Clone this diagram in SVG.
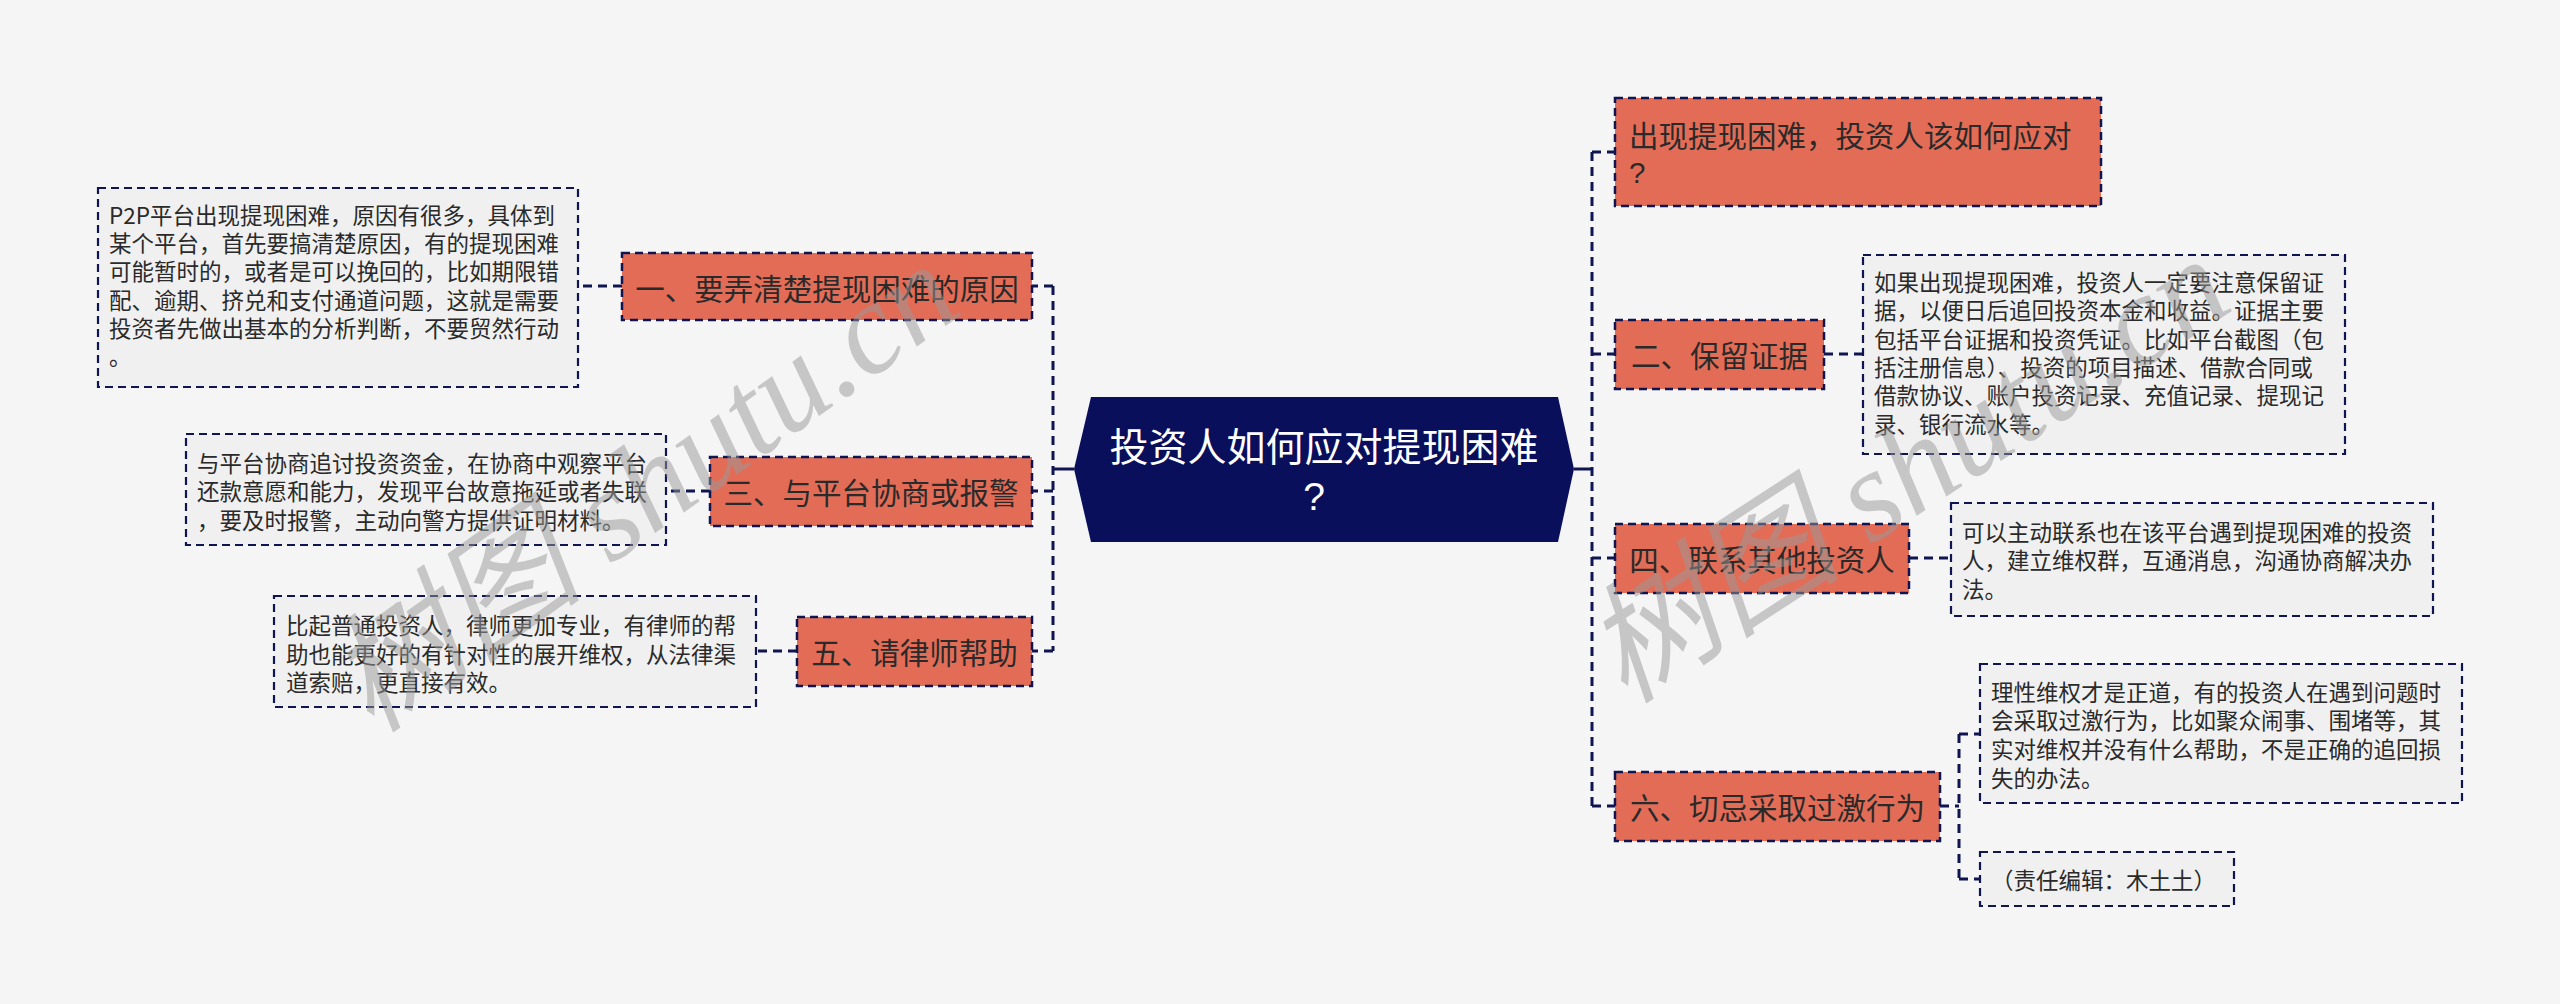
<svg xmlns="http://www.w3.org/2000/svg" width="2560" height="1004" viewBox="0 0 2560 1004">
<style>
.bg{fill:#f5f5f5}
.node{fill:#e36c57;stroke:#0e1550;stroke-width:2.5;stroke-dasharray:8 5}
.note{fill:#f0f0f0;stroke:#0e1550;stroke-width:2.2;stroke-dasharray:8 5}
.conn{fill:none;stroke:#0e1550;stroke-width:3;stroke-dasharray:9 6}
.solid{fill:none;stroke:#0e1550;stroke-width:3}
.nt{font-family:"Noto Sans CJK SC","Noto Sans",sans-serif;font-size:29.5px;fill:#2a2a2a;dominant-baseline:central}
.tt{font-family:"Noto Sans CJK SC","Noto Sans",sans-serif;font-size:22.5px;fill:#2a2a2a;dominant-baseline:central}
.ct{font-family:"Noto Sans CJK SC","Noto Sans",sans-serif;font-size:39px;fill:#ffffff;dominant-baseline:central;text-anchor:middle}
.q{font-family:"Liberation Sans",sans-serif}
.wm{font-family:"Liberation Serif","Noto Sans CJK SC",serif;font-style:italic;font-size:130px;fill:#999999;opacity:0.5}
</style>
<rect class="bg" x="0" y="0" width="2560" height="1004"/>

<g id="connectors">
  <path class="solid" d="M1074 469 H1053"/>
  <path class="conn" d="M1053 286 V651"/>
  <path class="conn" d="M1053 286 H1032 M1053 491 H1032 M1053 651 H1032"/>
  <path class="conn" d="M622 286 H578 M710 491 H666 M797 651 H756"/>
  <path class="solid" d="M1574 469 H1592"/>
  <path class="conn" d="M1592 152 V806"/>
  <path class="conn" d="M1592 152 H1615 M1592 354 H1615 M1592 558 H1615 M1592 806 H1615"/>
  <path class="conn" d="M1824 354 H1863 M1909 558 H1951 M1940 806 H1959"/>
  <path class="conn" d="M1959 734 V879 M1959 734 H1980 M1959 879 H1980"/>
</g>

<g id="center">
  <polygon points="1074,469 1091,397 1558,397 1574,469 1558,542 1091,542" fill="#0a0f5c"/>
  <text class="ct" x="1324" y="444">投资人如何应对提现困难</text>
  <text class="ct q" x="1314" y="496">?</text>
</g>

<g id="n1">
  <rect class="node" x="622" y="253" width="410" height="67"/>
  <text class="nt" x="827" y="287" text-anchor="middle">一、要弄清楚提现困难的原因</text>
</g>
<g id="n1-note">
  <rect class="note" x="98" y="188" width="480" height="199"/>
  <text class="tt" x="109" y="214">P2P平台出现提现困难，原因有很多，具体到</text>
  <text class="tt" x="109" y="242">某个平台，首先要搞清楚原因，有的提现困难</text>
  <text class="tt" x="109" y="270">可能暂时的，或者是可以挽回的，比如期限错</text>
  <text class="tt" x="109" y="299">配、逾期、挤兑和支付通道问题，这就是需要</text>
  <text class="tt" x="109" y="327">投资者先做出基本的分析判断，不要贸然行动</text>
  <text class="tt" x="109" y="355">。</text>
</g>

<g id="n3">
  <rect class="node" x="710" y="457" width="322" height="69"/>
  <text class="nt" x="871" y="491" text-anchor="middle">三、与平台协商或报警</text>
</g>
<g id="n3-note">
  <rect class="note" x="186" y="434" width="480" height="111"/>
  <text class="tt" x="197" y="462">与平台协商追讨投资资金，在协商中观察平台</text>
  <text class="tt" x="197" y="490">还款意愿和能力，发现平台故意拖延或者失联</text>
  <text class="tt" x="197" y="519">，要及时报警，主动向警方提供证明材料。</text>
</g>

<g id="n5">
  <rect class="node" x="797" y="617" width="235" height="69"/>
  <text class="nt" x="914.5" y="651" text-anchor="middle">五、请律师帮助</text>
</g>
<g id="n5-note">
  <rect class="note" x="274" y="596" width="482" height="111"/>
  <text class="tt" x="286" y="624">比起普通投资人，律师更加专业，有律师的帮</text>
  <text class="tt" x="286" y="653">助也能更好的有针对性的展开维权，从法律渠</text>
  <text class="tt" x="286" y="681">道索赔，更直接有效。</text>
</g>

<g id="n0">
  <rect class="node" x="1615" y="98" width="486" height="108"/>
  <text class="nt" x="1629" y="134">出现提现困难，投资人该如何应对</text>
  <text class="nt q" x="1629" y="172">?</text>
</g>

<g id="n2">
  <rect class="node" x="1615" y="320" width="209" height="69"/>
  <text class="nt" x="1719.5" y="354" text-anchor="middle">二、保留证据</text>
</g>
<g id="n2-note">
  <rect class="note" x="1863" y="255" width="482" height="199"/>
  <text class="tt" x="1874" y="281">如果出现提现困难，投资人一定要注意保留证</text>
  <text class="tt" x="1874" y="309">据，以便日后追回投资本金和收益。证据主要</text>
  <text class="tt" x="1874" y="338">包括平台证据和投资凭证。比如平台截图（包</text>
  <text class="tt" x="1874" y="366">括注册信息）、投资的项目描述、借款合同或</text>
  <text class="tt" x="1874" y="394">借款协议、账户投资记录、充值记录、提现记</text>
  <text class="tt" x="1874" y="423">录、银行流水等。</text>
</g>

<g id="n4">
  <rect class="node" x="1615" y="524" width="294" height="69"/>
  <text class="nt" x="1762" y="558" text-anchor="middle">四、联系其他投资人</text>
</g>
<g id="n4-note">
  <rect class="note" x="1951" y="503" width="482" height="113"/>
  <text class="tt" x="1962" y="531">可以主动联系也在该平台遇到提现困难的投资</text>
  <text class="tt" x="1962" y="559">人，建立维权群，互通消息，沟通协商解决办</text>
  <text class="tt" x="1962" y="588">法。</text>
</g>

<g id="n6">
  <rect class="node" x="1615" y="772" width="325" height="69"/>
  <text class="nt" x="1777.5" y="806" text-anchor="middle">六、切忌采取过激行为</text>
</g>
<g id="n6-note-a">
  <rect class="note" x="1980" y="664" width="482" height="139"/>
  <text class="tt" x="1991" y="691">理性维权才是正道，有的投资人在遇到问题时</text>
  <text class="tt" x="1991" y="719">会采取过激行为，比如聚众闹事、围堵等，其</text>
  <text class="tt" x="1991" y="748">实对维权并没有什么帮助，不是正确的追回损</text>
  <text class="tt" x="1991" y="777">失的办法。</text>
</g>
<g id="n6-note-b">
  <rect class="note" x="1980" y="852" width="254" height="54"/>
  <text class="tt" x="1991" y="879">（责任编辑：木土土）</text>
</g>

<g id="watermark">
  <text class="wm" transform="translate(372,735) rotate(-35.5)">树图 shutu.cn</text>
  <text class="wm" transform="translate(1625,705) rotate(-33)">树图 shutu.cn</text>
</g>
</svg>
